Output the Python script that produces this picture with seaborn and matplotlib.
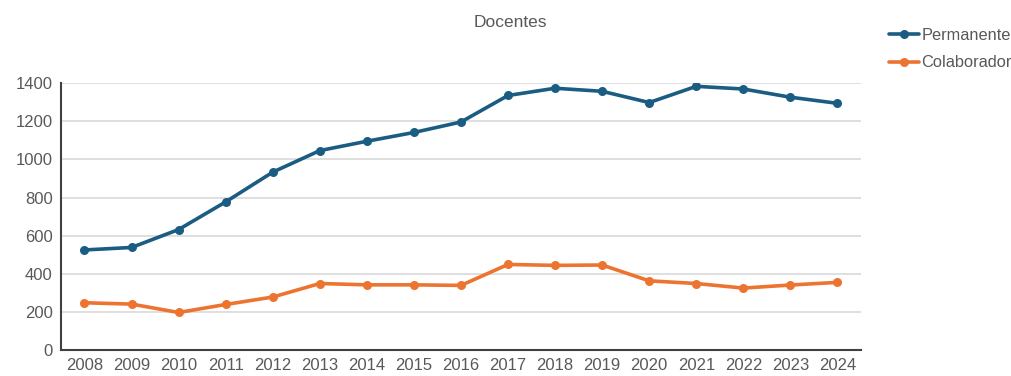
import matplotlib
matplotlib.use("Agg")
import matplotlib.pyplot as plt
import seaborn as sns
import pandas as pd

years = ["2008", "2009", "2010", "2011", "2012", "2013", "2014", "2015", "2016",
         "2017", "2018", "2019", "2020", "2021", "2022", "2023", "2024"]
permanente = [525, 538, 632, 777, 933, 1046, 1095, 1141, 1196,
              1335, 1373, 1357, 1298, 1383, 1369, 1326, 1294]
colaborador = [248, 241, 197, 239, 278, 349, 342, 342, 339,
               449, 444, 446, 363, 349, 325, 341, 355]
series_names = ["Permanente", "Colaborador"]
series_colors = ["#1b5c82", "#ec7430"]

df = pd.DataFrame({
    "Ano": years * 2,
    "Docentes": permanente + colaborador,
    "Tipo": [series_names[0]] * len(years) + [series_names[1]] * len(years),
})

sns.set_theme(style="white")
plt.rcParams["font.family"] = ["Liberation Sans", "DejaVu Sans"]
text_gray = "#595959"

fig = plt.figure(figsize=(10.11, 3.76), dpi=100)
ax = fig.add_axes([0.0603, 0.069, 0.7913, 0.710])

sns.lineplot(data=df, x="Ano", y="Docentes", hue="Tipo", hue_order=series_names,
             palette=series_colors, marker="o", markersize=6.5, markeredgewidth=0,
             linewidth=2.6, ax=ax, sort=False)

ax.set_ylim(0, 1400)
ax.set_xlim(-0.5, len(years) - 0.5)
ax.set_yticks(range(0, 1401, 200))
ax.yaxis.grid(True, color="#d9d9d9", linewidth=1.2)
ax.set_axisbelow(True)
for side in ["top", "right"]:
    ax.spines[side].set_visible(False)
ax.spines["left"].set_color("#404040")
ax.spines["bottom"].set_color("#404040")
ax.spines["left"].set_linewidth(1.5)
ax.spines["bottom"].set_linewidth(1.5)
ax.set_xlabel("")
ax.set_ylabel("")
ax.tick_params(axis="both", labelsize=12, labelcolor=text_gray, length=0, pad=6)

fig.text(0.5045, 0.94, "Docentes", ha="center", va="center", fontsize=12.5, color=text_gray)

leg = ax.legend(loc="upper left", bbox_to_anchor=(1.0355, 1.206), frameon=False,
                fontsize=11.8, handlelength=1.8, handletextpad=0.15, labelspacing=0.75,
                borderaxespad=0, borderpad=0)
for t in leg.get_texts():
    t.set_color(text_gray)

fig.savefig("out.png", dpi=100)
